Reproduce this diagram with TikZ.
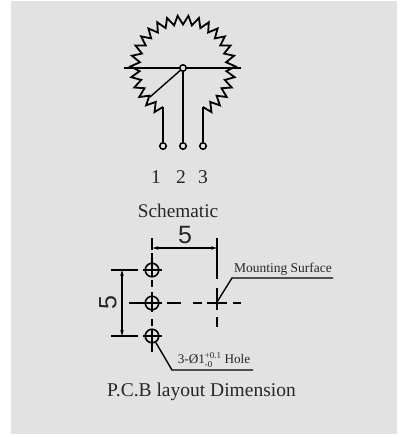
\documentclass[tikz,border=0pt]{standalone}
\usepackage{fontspec}
\usetikzlibrary{arrows.meta}
\setmainfont{Liberation Serif}
\newfontfamily\dimfont{Liberation Sans}
\definecolor{panel}{HTML}{E2E2E2}
\tikzset{x=1pt,y=-1pt,
 wire/.style={line width=1.8pt,black,line join=miter},
 thin wire/.style={line width=1.4pt,black},
 dim/.style={line width=1.4pt,black},
 pin/.style={circle,draw=black,line width=1.5pt,fill=panel,inner sep=0pt,minimum size=6.5pt},
 hole/.style={circle,draw=black,line width=1.6pt,inner sep=0pt,minimum size=13.5pt},
 label/.style={inner sep=0pt,text=black!85},
 dimarrow/.style={dim,{Stealth[length=6pt,width=3.5pt]}-{Stealth[length=6pt,width=3.5pt]}}
}
\newcommand{\tolsize}{\fontsize{9}{9}\selectfont}
\begin{document}
\begin{tikzpicture}
\useasboundingbox (0,0) rectangle (405,437);
\fill[panel] (11,1) rectangle (397,434);
\coordinate (c) at (183,68);
\coordinate (l1) at (163,107);
\coordinate (l3) at (203,107);
% zigzag resistor
\draw[wire] (l1) -- plot[samples at={0,...,50},variable=\k]
   ({183+(48+4.5*cos(180*\k))*cos(243-(\k+1)*5.885)},{68-(48+4.5*cos(180*\k))*sin(243-(\k+1)*5.885)})
   -- (l3);
\node[pin] (p1) at (163,146) {};
\node[pin] (p2) at (183,146) {};
\node[pin] (p3) at (203,146) {};
\coordinate (hl) at (124,68);
\coordinate (hr) at (241,68);
\coordinate (wip) at (150,97);
\draw[wire] (hl) -- (hr);
\draw[wire] (l1) -- (p1);
\draw[wire] (l3) -- (p3);
\node[pin] (cn) at (c) {};
\draw[wire] (cn) -- (p2);
\draw[thin wire] (cn) -- (wip);
\node[label,font=\fontsize{19.5}{20}\selectfont] (n1) at (156,177) {1};
\node[label,font=\fontsize{19.5}{20}\selectfont] (n2) at (181,177) {2};
\node[label,font=\fontsize{19.5}{20}\selectfont] (n3) at (203,177) {3};
\node[label,font=\fontsize{19.3}{20}\selectfont] (sch) at (178,210.5) {Schematic};
% layout
\node[hole] (h1) at (152,270) {};
\node[hole] (h2) at (152,303) {};
\node[hole] (h3) at (152,336) {};
\coordinate (v1) at (152,238); \coordinate (v1b) at (152,250);
\coordinate (v2) at (152,253); \coordinate (v2b) at (152,277);
\coordinate (v3) at (152,280); \coordinate (v3b) at (152,287);
\coordinate (v4) at (152,292); \coordinate (v4b) at (152,312);
\coordinate (v5) at (152,319); \coordinate (v5b) at (152,326);
\coordinate (v6) at (152,329); \coordinate (v6b) at (152,352);
\foreach \p/\q in {v1/v1b,v2/v2b,v3/v3b,v4/v4b,v5/v5b,v6/v6b} \draw[dim] (\p) -- (\q);
\coordinate (mv1) at (217,238); \coordinate (mv2) at (217,279);
\coordinate (mv3) at (217,288); \coordinate (mv4) at (217,310);
\coordinate (mv5) at (217,317); \coordinate (mv6) at (217,327);
\coordinate (mk) at (217,302);
\foreach \p/\q in {mv1/mv2,mv3/mv4,mv5/mv6} \draw[dim] (\p) -- (\q);
\coordinate (z1) at (129,303); \coordinate (z2) at (162,303);
\coordinate (z3) at (167,303); \coordinate (z4) at (181,303);
\coordinate (z5) at (193,303); \coordinate (z6) at (202,303);
\coordinate (z7) at (207,303); \coordinate (z8) at (227,303);
\coordinate (z9) at (233,303); \coordinate (z10) at (241,303);
\foreach \p/\q in {z1/z2,z3/z4,z5/z6,z7/z8,z9/z10} \draw[dim] (\p) -- (\q);
\coordinate (a1) at (143,270); \coordinate (a2) at (162,270);
\coordinate (b1) at (143,336); \coordinate (b2) at (162,336);
\draw[dim] (a1) -- (a2);
\draw[dim] (b1) -- (b2);
\coordinate (t1) at (111,270);
\coordinate (t2) at (138,270);
\coordinate (t3) at (111,336);
\coordinate (t4) at (138,336);
\draw[dim] (t1) -- (t2);
\draw[dim] (t3) -- (t4);
\coordinate (da1) at (122,270); \coordinate (da2) at (122,336);
\coordinate (db1) at (152.5,248); \coordinate (db2) at (217,248);
\draw[dimarrow] (da1) -- (da2);
\draw[dimarrow] (db1) -- (db2);
\node[label,font=\dimfont\fontsize{25}{25}\selectfont] (d5a) at (185,235) {5};
\node[label,font=\dimfont\fontsize{25}{25}\selectfont,rotate=90] (d5b) at (108,303) {5};
\coordinate (ms) at (232,278);
\coordinate (mse) at (333,278);
\draw[dim] (mk) -- (ms) -- (mse);
\node[label,font=\fontsize{13.5}{14}\selectfont] (mst) at (283,269) {Mounting Surface};
\coordinate (hk) at (172,370);
\coordinate (hke) at (253,370);
\draw[dim] (h3) -- (hk) -- (hke);
\node[label,font=\fontsize{13.2}{13}\selectfont] (ht) at (214,360) {3-Ø1\rlap{\raisebox{-3.5pt}{\tolsize -0}}\raisebox{5pt}{\tolsize +0.1} Hole};
\node[label,font=\fontsize{19.5}{20}\selectfont] (pcb) at (201.5,392) {P.C.B layout Dimension};
\end{tikzpicture}
\end{document}
